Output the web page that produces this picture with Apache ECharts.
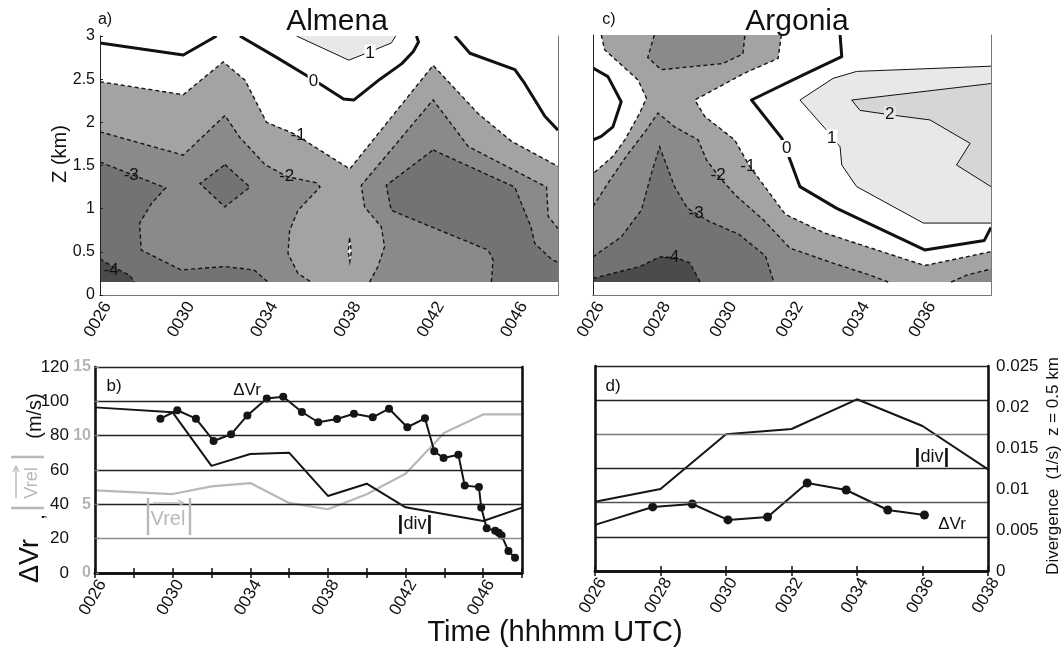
<!DOCTYPE html>
<html>
<head>
<meta charset="utf-8">
<script src="https://cdn.jsdelivr.net/npm/echarts@6/dist/echarts.min.js"></script>
<style>
  html, body { margin: 0; padding: 0; background: #fff; }
  #chart { width: 1062px; height: 649px; }
</style>
</head>
<body>
<div id="chart"></div>
<script>
// ---------------------------------------------------------------------------
// Times are minutes after 00 UTC (26 -> "0026").
// ---------------------------------------------------------------------------

// Panel b: Almena time series
const almenaScanTimes = [29.37, 30.24, 31.20, 32.11, 33.01, 33.85, 34.85, 35.70, 36.66, 37.50,
                         38.47, 39.34, 40.31, 41.15, 42.09, 43.00, 43.48, 43.96, 44.72, 45.05,
                         45.78, 45.90, 46.18, 46.62, 46.80, 46.95, 47.30, 47.64];
const almenaDeltaVr = [89.9, 94.8, 89.9, 76.9, 80.8, 91.8, 101.7, 102.7, 93.8, 87.8,
                       89.7, 92.8, 90.7, 95.7, 84.9, 90.1, 70.9, 67.0, 68.9, 50.9,
                       50.1, 38.1, 26.0, 24.6, 23.4, 21.9, 12.8, 8.9];
const almenaDivTimes = [26, 30, 32, 34, 36, 38, 40, 42, 46, 48];
const almenaDiv = [0.0201, 0.0195, 0.0130, 0.01444, 0.0146, 0.00935, 0.01084, 0.00797, 0.00631, 0.00793];
const almenaVrelTimes = [26, 30, 32, 34, 36, 38, 40, 42, 44, 46, 48];
const almenaVrel = [6.02, 5.75, 6.31, 6.55, 5.10, 4.64, 5.73, 7.23, 10.22, 11.55, 11.55];

// Panel d: Argonia time series
const argoniaScanTimes = [26, 27.76, 28.97, 30.06, 31.27, 32.48, 33.67, 34.94, 36.06];
const argoniaDeltaVr = [27.0, 37.5, 39.2, 29.9, 31.6, 51.5, 47.4, 35.7, 32.8];
const argoniaDivTimes = [26, 28, 30, 32, 34, 36, 38];
const argoniaDiv = [0.00845, 0.0100, 0.01667, 0.01732, 0.02094, 0.01768, 0.0124];

// Height-time sections: contour outlines in (time, km).
// side 'above' = region where the field exceeds `level`, 'below' = under it,
// 'line' = contour with equal shading on both sides, 'base' = background band.
const KM_FLOOR = 0.15;
const KM_TOP = 3;

const almenaContours = [
  { side: 'base', band: -3, pts: [[26, KM_FLOOR], [48, KM_FLOOR], [48, KM_TOP], [26, KM_TOP]] },
  { level: -3, side: 'below', pts: [[26, 1.54], [27.9, 1.36], [29.15, 1.24], [28.47, 1.06], [27.9, 0.83], [27.98, 0.52], [29.9, 0.29], [31.98, 0.33], [33.4, 0.29], [34.07, KM_FLOOR], [26, KM_FLOOR]] },
  { level: -3, side: 'below', pts: [[32.0, 1.51], [33.2, 1.25], [32.0, 1.02], [30.8, 1.29]] },
  { level: -3, side: 'below', pts: [[42.0, 1.68], [45.92, 1.25], [46.7, 0.79], [46.88, 0.6], [47.7, 0.41], [48, 0.38], [48, KM_FLOOR], [44.8, KM_FLOOR], [44.88, 0.41], [44.64, 0.52], [39.99, 0.98], [39.75, 1.27]] },
  { level: -4, side: 'below', pts: [[26, 0.42], [26.6, 0.33], [27.42, 0.23], [27.66, KM_FLOOR], [26, KM_FLOOR]] },
  { level: -2, side: 'above', pts: [[26, 1.89], [30, 1.62], [32, 2.08], [32.7, 1.83], [33.93, 1.51], [35.0, 1.37], [36.4, 1.3], [36.57, 1.25], [35.51, 0.98], [35.11, 0.75], [35.03, 0.48], [35.51, 0.25], [36.15, KM_FLOOR], [38.95, KM_FLOOR], [39.35, 0.33], [39.67, 0.56], [39.51, 0.79], [38.71, 1.02], [38.55, 1.27], [42.0, 2.26], [43.69, 1.72], [47.45, 1.25], [47.53, 0.91], [48, 0.77], [48, KM_TOP], [26, KM_TOP]] },
  { level: -1, side: 'above', pts: [[26, 2.47], [30, 2.32], [31.92, 2.7], [32.96, 2.49], [34.0, 2.0], [35.3, 1.87], [38.0, 1.46], [42.0, 2.66], [44.17, 2.1], [45.77, 1.78], [48, 1.49], [48, KM_TOP], [26, KM_TOP]] },
  { level: -1, side: 'above', pts: [[37.99, 0.66], [38.07, 0.5], [38.0, 0.39], [37.93, 0.5]] },
  { level: 1, side: 'above', pts: [[35.44, KM_TOP], [37.95, 2.72], [39.0, 2.82], [40.0, 2.92], [40.2, KM_TOP]] },
  { level: 0, side: 'line', pts: [[26, 2.92], [30, 2.78], [31.6, KM_TOP]] },
  { level: 0, side: 'line', pts: [[32.72, KM_TOP], [34.5, 2.75], [36.0, 2.53], [36.8, 2.41], [37.7, 2.27], [38.2, 2.26], [39.45, 2.5], [40.5, 2.68], [41.05, 2.82], [41.3, 2.93], [41.2, KM_TOP]] },
  { level: 0, side: 'line', pts: [[43.05, KM_TOP], [43.77, 2.8], [45.93, 2.61], [46.4, 2.45], [47.37, 2.07], [48, 1.91]] }
];
const almenaLabels = [['0', 36.25, 2.47], ['-1', 35.52, 1.85], ['-2', 34.97, 1.37], ['-3', 27.5, 1.39], ['-4', 26.54, 0.29], ['1', 38.97, 2.8]];

const argoniaContours = [
  { side: 'base', band: -3, pts: [[26, KM_FLOOR], [38, KM_FLOOR], [38, KM_TOP], [26, KM_TOP]] },
  { level: -3, side: 'below', pts: [[26, 0.44], [26.85, 0.67], [27.46, 0.98], [27.76, 1.4], [28.01, 1.71], [28.46, 1.25], [28.85, 1.0], [29.5, 0.85], [30.4, 0.7], [31.2, 0.45], [31.45, KM_FLOOR], [26, KM_FLOOR]] },
  { level: -4, side: 'below', pts: [[26, 0.19], [27.42, 0.33], [28.02, 0.44], [28.5, 0.43], [28.92, 0.37], [29.23, KM_FLOOR], [26, KM_FLOOR]] },
  { level: -2, side: 'above', pts: [[26, 1.02], [26.45, 1.29], [27.0, 1.6], [27.6, 1.9], [27.96, 2.1], [28.46, 1.94], [29.17, 1.79], [29.42, 1.56], [29.77, 1.38], [30.3, 1.15], [31.13, 0.87], [31.94, 0.54], [33.3, 0.36], [34.35, 0.23], [34.9, KM_FLOOR], [36.8, KM_FLOOR], [37.27, 0.23], [38, 0.3], [38, KM_TOP], [26, KM_TOP]] },
  { level: -2, side: 'below', pts: [[27.85, KM_TOP], [27.65, 2.74], [28.06, 2.6], [29.9, 2.67], [30.52, 2.78], [30.58, KM_TOP]] },
  { level: -1, side: 'above', pts: [[26, KM_TOP], [26.25, KM_TOP], [26.35, 2.83], [27.36, 2.48], [27.61, 2.27], [27.41, 2.1], [26.96, 1.79], [26.6, 1.6], [26, 1.4]] },
  { level: -1, side: 'above', pts: [[31.68, KM_TOP], [31.58, 2.73], [30.57, 2.56], [29.07, 2.25], [29.37, 2.06], [30.27, 1.79], [30.7, 1.5], [31.18, 1.25], [31.8, 0.93], [32.95, 0.72], [36.0, 0.34], [38, 0.5], [38, KM_TOP]] },
  { level: 1, side: 'above', pts: [[32.24, 2.25], [33.24, 2.5], [33.95, 2.58], [38, 2.64], [38, 0.83], [35.96, 0.83], [33.95, 1.25], [33.5, 1.5], [33.45, 1.71], [33.0, 1.92]] },
  { level: 2, side: 'above', pts: [[33.8, 2.25], [38, 2.44], [38, 1.25], [36.96, 1.5], [37.37, 1.75], [36.16, 2.02], [34.95, 2.08], [34.05, 2.13]] },
  { level: 0, side: 'line', pts: [[26, 2.62], [26.45, 2.52], [26.85, 2.23], [26.6, 1.94], [26.25, 1.83], [26, 1.79]] },
  { level: 0, side: 'line', pts: [[33.45, KM_TOP], [33.5, 2.75], [32.34, 2.54], [30.78, 2.25], [31.69, 1.81], [31.94, 1.56], [32.24, 1.25], [33.35, 1.0], [36.0, 0.52], [37.8, 0.63], [38, 0.78]] }
];
const argoniaLabels = [['0', 31.84, 1.69], ['-1', 30.67, 1.48], ['-2', 29.77, 1.38], ['-3', 29.11, 0.94], ['-4', 28.37, 0.44], ['1', 33.2, 1.81], ['2', 34.95, 2.08]];

// ---------------------------------------------------------------------------
const FONT = "'Liberation Sans', Arial, Helvetica, sans-serif";
const BAND_COLOR = { '-5': '#4b4b4b', '-4': '#737373', '-3': '#8a8a8a', '-2': '#a3a3a3',
                     '-1': '#ffffff', '0': '#ffffff', '1': '#e7e8e8', '2': '#d5d6d7' };
const GREY = '#b8b8b8';
const hhmm = v => '00' + String(Math.round(v)).padStart(2, '0');

function fillOf(s) {
  if (s.side === 'base') return BAND_COLOR[s.band];
  return BAND_COLOR[s.side === 'above' ? s.level : s.level - 1];
}
function strokeOf(level) {
  if (level < 0) return { stroke: '#151515', lineWidth: 1.4, lineDash: [4, 3], fill: 'none' };
  if (level === 0) return { stroke: '#111', lineWidth: 3, fill: 'none', lineJoin: 'round' };
  return { stroke: '#111', lineWidth: 1, fill: 'none' };
}

function contourSeries(shapes, xi, yi, t0, t1) {
  const onEdge = (a, b) =>
    (a[0] === b[0] && (a[0] === t0 || a[0] === t1)) ||
    (a[1] === b[1] && (a[1] === KM_FLOOR || a[1] === KM_TOP));
  return {
    type: 'custom', xAxisIndex: xi, yAxisIndex: yi, clip: true, silent: true, z: 2,
    data: shapes.map(s => s.pts[0]),
    renderItem(params, api) {
      const s = shapes[params.dataIndex];
      const px = s.pts.map(p => api.coord(p));
      const children = [];
      if (s.side !== 'line') {
        children.push({ type: 'polygon', shape: { points: px }, style: { fill: fillOf(s), stroke: null } });
      }
      if (s.side !== 'base') {
        const n = s.pts.length;
        const segs = s.side === 'line' ? n - 1 : n;
        let run = [];
        const flush = () => {
          if (run.length > 1) children.push({ type: 'polyline', shape: { points: run }, style: strokeOf(s.level) });
          run = [];
        };
        for (let i = 0; i < segs; i++) {
          const j = (i + 1) % n;
          if (onEdge(s.pts[i], s.pts[j])) { flush(); continue; }
          if (!run.length) run.push(px[i]);
          run.push(px[j]);
        }
        flush();
      }
      return { type: 'group', children };
    }
  };
}

// Contour values; labels on the zero and positive contours break the line.
function contourLabelSeries(labels, xi, yi) {
  return {
    type: 'custom', xAxisIndex: xi, yAxisIndex: yi, clip: true, silent: true, z: 3,
    data: labels.map(l => [l[1], l[2]]),
    renderItem(params, api) {
      const l = labels[params.dataIndex];
      const p = api.coord([l[1], l[2]]);
      const level = +l[0];
      const style = {
        text: l[0], fill: '#111', font: `17px ${FONT}`,
        align: 'center', verticalAlign: 'middle', textAlign: 'center', textVerticalAlign: 'middle'
      };
      if (level >= 0) { style.backgroundColor = BAND_COLOR[level - 1]; style.padding = [0, 1]; }
      return { type: 'text', x: p[0], y: p[1], style };
    }
  };
}

const zip = (xs, ys) => xs.map((x, i) => [x, ys[i]]);

// ---------------------------------------------------------------------------
const tickFont = { fontFamily: FONT, fontSize: 17, color: '#111' };
const thinBox = { show: true, lineStyle: { color: '#777', width: 1 } };
const darkLine = { show: true, lineStyle: { color: '#222', width: 1 } };
const thickLine = { show: true, lineStyle: { color: '#111', width: 2.6 } };
const timeLabel = { rotate: 60, margin: 4, verticalAlign: 'top' };

function sectionX(grid, min, max, interval) {
  return [
    { type: 'value', gridIndex: grid, min, max, interval, position: 'bottom', z: 6,
      axisLine: darkLine, axisTick: { show: false }, splitLine: { show: false },
      axisLabel: Object.assign({ formatter: hhmm, showMaxLabel: false }, timeLabel, tickFont) },
    { type: 'value', gridIndex: grid, min, max, interval, position: 'top', z: 6,
      axisLine: thinBox, axisTick: { show: false }, axisLabel: { show: false }, splitLine: { show: false } }
  ];
}
function seriesX(grid, min, max, labelEvery) {
  return [
    { type: 'value', gridIndex: grid, min, max, interval: 2, position: 'bottom', z: 6,
      axisLine: thickLine, axisTick: { show: true, inside: true, length: 5, lineStyle: { color: '#111', width: 1.5 } },
      splitLine: { show: false },
      axisLabel: Object.assign({ formatter: v => ((v - min) % labelEvery === 0 ? hhmm(v) : '') }, timeLabel, tickFont) },
    { type: 'value', gridIndex: grid, min, max, interval: 2, position: 'top', z: 6,
      axisLine: thickLine, axisTick: { show: true, inside: true, length: 5, lineStyle: { color: '#111', width: 1.5 } },
      axisLabel: { show: false }, splitLine: { show: false } }
  ];
}

const xAxis = [].concat(
  sectionX(0, 26, 48, 4),   // 0,1  Almena section
  sectionX(1, 26, 38, 2),   // 2,3  Argonia section
  seriesX(2, 26, 48, 4),    // 4,5  panel b
  seriesX(3, 26, 38, 2)     // 6,7  panel d
);

const yAxis = [
  // 0,1 Almena section
  { type: 'value', gridIndex: 0, min: 0, max: 3, interval: 0.5, position: 'left', z: 6,
    axisLine: darkLine, axisTick: { show: true, inside: true, length: 3, lineStyle: { color: '#222' } },
    splitLine: { show: false }, axisLabel: Object.assign({ margin: 5 }, tickFont, { fontSize: 16 }) },
  { type: 'value', gridIndex: 0, min: 0, max: 3, position: 'right', z: 6,
    axisLine: thinBox, axisTick: { show: false }, axisLabel: { show: false }, splitLine: { show: false } },
  // 2,3 Argonia section
  { type: 'value', gridIndex: 1, min: 0, max: 3, interval: 0.5, position: 'left', z: 6,
    axisLine: darkLine, axisTick: { show: false }, axisLabel: { show: false }, splitLine: { show: false } },
  { type: 'value', gridIndex: 1, min: 0, max: 3, position: 'right', z: 6,
    axisLine: thinBox, axisTick: { show: false }, axisLabel: { show: false }, splitLine: { show: false } },
  // 4 panel b: ΔVr (m/s)
  { type: 'value', gridIndex: 2, min: 0, max: 120, interval: 20, position: 'left', z: 6,
    axisLine: thickLine, axisTick: { show: false },
    axisLabel: Object.assign({ margin: 26 }, tickFont),
    splitLine: { show: true, lineStyle: { width: 1.3, color: ['#222', '#8c8c8c', '#222', '#222', '#222', '#222', '#222'] } } },
  // 5 panel b: |Vrel| (m/s), grey scale
  { type: 'value', gridIndex: 2, min: 0, max: 15, interval: 2.5, position: 'left', z: 6,
    axisLine: { show: false },
    axisTick: { show: true, inside: true, length: 4, lineStyle: { color: '#888', width: 1.2 } },
    axisLabel: { margin: 4, fontFamily: FONT, fontSize: 16, fontWeight: 'bold', color: '#b5b5b5',
      formatter: v => (v % 5 === 0 ? String(v) : '') },
    splitLine: { show: false } },
  // 6 panel b: divergence (1/s)
  { type: 'value', gridIndex: 2, min: 0, max: 0.025, interval: 0.005, position: 'right', z: 6,
    axisLine: thickLine, axisTick: { show: false }, axisLabel: { show: false }, splitLine: { show: false } },
  // 7 panel d: ΔVr (m/s)
  { type: 'value', gridIndex: 3, min: 0, max: 120, interval: 20, position: 'left', z: 6,
    axisLine: thickLine, axisTick: { show: false }, axisLabel: { show: false },
    splitLine: { show: true, lineStyle: { width: 1.3, color: ['#222', '#222', '#555', '#222', '#7a7a7a', '#222', '#222'] } } },
  // 8 panel d: divergence (1/s)
  { type: 'value', gridIndex: 3, min: 0, max: 0.025, interval: 0.005, position: 'right', z: 6,
    axisLine: thickLine, axisTick: { show: false }, splitLine: { show: false },
    axisLabel: Object.assign({ margin: 8, formatter: v => (v === 0 ? '0' : String(+v.toFixed(3))) }, tickFont) }
];

const lineBase = { type: 'line', animation: false, silent: true };
const series = [
  contourSeries(almenaContours, 0, 0, 26, 48),
  contourLabelSeries(almenaLabels, 0, 0),
  contourSeries(argoniaContours, 2, 2, 26, 38),
  contourLabelSeries(argoniaLabels, 2, 2),

  Object.assign({}, lineBase, { name: '|Vrel|', xAxisIndex: 4, yAxisIndex: 5, z: 3,
    data: zip(almenaVrelTimes, almenaVrel), symbol: 'none',
    lineStyle: { color: GREY, width: 2.2 } }),
  Object.assign({}, lineBase, { name: '|div|', xAxisIndex: 4, yAxisIndex: 6, z: 4,
    data: zip(almenaDivTimes, almenaDiv), symbol: 'none',
    lineStyle: { color: '#151515', width: 2 } }),
  Object.assign({}, lineBase, { name: 'ΔVr', xAxisIndex: 4, yAxisIndex: 4, z: 5,
    data: zip(almenaScanTimes, almenaDeltaVr), symbol: 'circle', symbolSize: 8,
    itemStyle: { color: '#151515' }, lineStyle: { color: '#151515', width: 2 } }),

  Object.assign({}, lineBase, { name: '|div|', xAxisIndex: 6, yAxisIndex: 8, z: 4,
    data: zip(argoniaDivTimes, argoniaDiv), symbol: 'none',
    lineStyle: { color: '#151515', width: 2 } }),
  Object.assign({}, lineBase, { name: 'ΔVr', xAxisIndex: 6, yAxisIndex: 7, z: 5,
    // no marker at the window start
    data: zip(argoniaScanTimes, argoniaDeltaVr).map((p, i) => (i === 0 ? { value: p, symbol: 'none' } : p)),
    symbol: 'circle', symbolSize: 9,
    itemStyle: { color: '#151515' }, lineStyle: { color: '#151515', width: 2 } })
];

// ---------------------------------------------------------------------------
function txt(x, y, text, size, extra) {
  return Object.assign({
    type: 'text', x, y, silent: true, z: 20,
    style: Object.assign({ text, fill: '#111', font: `${size}px ${FONT}`,
      align: 'center', verticalAlign: 'middle', textAlign: 'center', textVerticalAlign: 'middle' },
      (extra && extra.style) || {})
  }, extra && extra.rotation !== undefined ? { rotation: extra.rotation } : {});
}
function seg(x1, y1, x2, y2, color, width) {
  return { type: 'line', silent: true, z: 20, shape: { x1, y1, x2, y2 }, style: { stroke: color, lineWidth: width } };
}
function poly(points, color, width) {
  return { type: 'polyline', silent: true, z: 20, shape: { points }, style: { stroke: color, lineWidth: width, fill: 'none' } };
}
const UP = Math.PI / 2;
const divText = (x, y) => ({
  type: 'text', x, y, silent: true, z: 20,
  style: { text: '{b||}div{b||}', fill: '#111', font: `18px ${FONT}`,
    align: 'center', verticalAlign: 'middle', textAlign: 'center', textVerticalAlign: 'middle',
    rich: { b: { fontSize: 21, fontWeight: 'bold', fontFamily: FONT, fill: '#111' } } }
});

const graphic = [
  txt(337, 22, 'Almena', 30),
  txt(797, 22, 'Argonia', 30),
  txt(105, 20, 'a)', 16),
  txt(609, 20, 'c)', 16),
  txt(60, 154, 'Z (km)', 20, { rotation: UP }),

  txt(114, 386, 'b)', 17),
  txt(247, 390, 'ΔVr', 17),
  divText(415, 524),
  // |Vrel| annotation (grey, arrow over Vrel)
  txt(168, 519, 'Vrel', 20, { style: { fill: GREY } }),
  seg(148, 498, 148, 535, GREY, 2.4),
  seg(190, 498, 190, 535, GREY, 2.4),
  seg(153, 503, 183, 503, GREY, 1.4),
  poly([[178, 500], [184, 503], [178, 506]], GREY, 1.2),

  txt(613, 386, 'd)', 17),
  divText(932, 457),
  txt(952, 524, 'ΔVr', 17),

  // left axis title of panel b
  txt(31, 561, 'ΔVr', 27, { rotation: UP }),
  txt(38, 517, ',', 20, { rotation: UP }),
  txt(32, 483, 'Vrel', 18, { rotation: UP, style: { fill: GREY } }),
  seg(11, 457, 44, 457, GREY, 2.4),
  seg(11, 508, 44, 508, GREY, 2.4),
  seg(16, 498, 16, 467, GREY, 1.4),
  poly([[13, 472], [16, 466], [19, 472]], GREY, 1.2),
  txt(35, 416, '(m/s)', 20, { rotation: UP }),

  // right axis title of panel d
  txt(1053, 466, 'Divergence  (1/s)  z = 0.5 km', 17, { rotation: UP }),

  // shared time axis title
  txt(555, 633, 'Time (hhhmm UTC)', 29)
];

const chart = echarts.init(document.getElementById('chart'), null, { renderer: 'canvas' });
chart.setOption({
  animation: false,
  backgroundColor: '#ffffff',
  textStyle: { fontFamily: FONT },
  grid: [
    { left: 100, top: 36, width: 458, height: 259 },
    { left: 593, top: 35, width: 398, height: 260 },
    { left: 95, top: 367, width: 427, height: 206 },
    { left: 595, top: 366, width: 393, height: 205 }
  ],
  xAxis,
  yAxis,
  series,
  graphic
});
</script>
</body>
</html>
